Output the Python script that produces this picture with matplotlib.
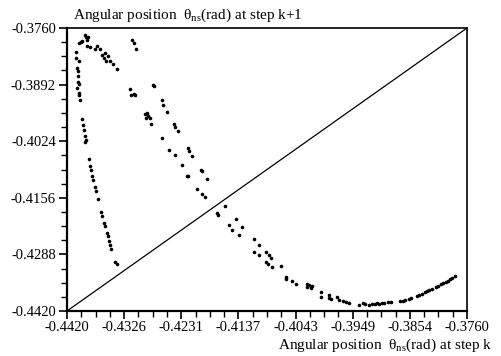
import matplotlib
matplotlib.use("Agg")
import matplotlib.pyplot as plt
import numpy as np

plt.rcParams['font.family'] = ['Liberation Serif', 'DejaVu Serif']
plt.rcParams['mathtext.fontset'] = 'custom'
plt.rcParams['mathtext.rm'] = 'Liberation Serif'
plt.rcParams['mathtext.it'] = 'Liberation Serif'

# axis range and tick labels
lo, hi = -0.4420, -0.3760
xtick_labels = ["-0.4420", "-0.4326", "-0.4231", "-0.4137", "-0.4043", "-0.3949", "-0.3854", "-0.3760"]
ytick_labels = ["-0.4420", "-0.4288", "-0.4156", "-0.4024", "-0.3892", "-0.3760"]

# return map: theta at step k (x) vs theta at step k+1 (y)
theta_k = [
    -0.4391, -0.4389, -0.4385, -0.4387, -0.4396, -0.4397, -0.4401, -0.4387, -0.4382, -0.4370,
    -0.4366, -0.4374, -0.4363, -0.4357, -0.4353, -0.4359, -0.4355, -0.4349, -0.4344, -0.4337,
    -0.4405, -0.4405, -0.4401, -0.4403, -0.4402, -0.4402, -0.4402, -0.4401, -0.4403, -0.4401,
    -0.4400, -0.4399, -0.4396, -0.4394, -0.4392, -0.4390, -0.4389, -0.4390, -0.4384, -0.4382,
    -0.4380, -0.4379, -0.4377, -0.4374, -0.4372, -0.4369, -0.4364, -0.4362, -0.4359, -0.4357,
    -0.4354, -0.4353, -0.4351, -0.4349, -0.4347, -0.4340, -0.4338,
    -0.4312, -0.4309, -0.4306, -0.4316, -0.4314, -0.4310, -0.4307, -0.4291, -0.4288, -0.4287,
    -0.4290, -0.4283, -0.4282,
    -0.4278, -0.4276, -0.4264, -0.4261, -0.4255, -0.4244, -0.4242, -0.4237, -0.4221, -0.4218,
    -0.4214, -0.4199, -0.4198, -0.4189, -0.4159, -0.4141, -0.4131, -0.4112, -0.4103, -0.4092,
    -0.4086, -0.4083, -0.4067,
    -0.4264, -0.4252, -0.4242, -0.4231, -0.4222, -0.4220, -0.4205, -0.4198, -0.4192, -0.4173,
    -0.4171, -0.4153, -0.4147, -0.4137, -0.4112, -0.4104, -0.4092, -0.4089, -0.4081, -0.4059,
    -0.4058, -0.4048, -0.4042, -0.4024, -0.4021, -0.4024, -0.4018, -0.4016, -0.4001, -0.4001,
    -0.3987, -0.3988, -0.3985, -0.3975, -0.3971, -0.3964, -0.3959, -0.3954, -0.3939, -0.3932,
    -0.3929, -0.3921, -0.3916, -0.3912, -0.3909, -0.3905, -0.3901, -0.3897, -0.3891, -0.3886,
    -0.3870, -0.3866, -0.3862, -0.3856, -0.3853, -0.3843, -0.3839, -0.3835, -0.3830, -0.3826,
    -0.3822, -0.3818, -0.3811, -0.3808, -0.3803, -0.3799, -0.3794, -0.3792, -0.3788, -0.3784,
    -0.3779,
]
theta_k1 = [
    -0.3777, -0.3780, -0.3780, -0.3787, -0.3790, -0.3793, -0.3795, -0.3801, -0.3804, -0.3801,
    -0.3808, -0.3810, -0.3822, -0.3818, -0.3826, -0.3831, -0.3836, -0.3838, -0.3843, -0.3856,
    -0.3817, -0.3831, -0.3836, -0.3854, -0.3861, -0.3871, -0.3885, -0.3890, -0.3900, -0.3911,
    -0.3916, -0.3929, -0.3972, -0.3986, -0.3999, -0.4011, -0.4021, -0.4025, -0.4066, -0.4083,
    -0.4091, -0.4104, -0.4114, -0.4130, -0.4141, -0.4159, -0.4188, -0.4198, -0.4214, -0.4222,
    -0.4237, -0.4246, -0.4257, -0.4265, -0.4276, -0.4305, -0.4311,
    -0.3789, -0.3796, -0.3808, -0.3903, -0.3917, -0.3913, -0.3917, -0.3961, -0.3959, -0.3965,
    -0.3971, -0.3971, -0.3985,
    -0.3894, -0.3895, -0.3929, -0.3939, -0.3955, -0.3983, -0.3990, -0.4001, -0.4040, -0.4048,
    -0.4058, -0.4091, -0.4093, -0.4112, -0.4174, -0.4205, -0.4223, -0.4251, -0.4265, -0.4282,
    -0.4289, -0.4296, -0.4314,
    -0.4017, -0.4044, -0.4057, -0.4080, -0.4104, -0.4104, -0.4136, -0.4146, -0.4154, -0.4192,
    -0.4197, -0.4219, -0.4231, -0.4243, -0.4283, -0.4289, -0.4306, -0.4310, -0.4317, -0.4341,
    -0.4345, -0.4350, -0.4356, -0.4357, -0.4359, -0.4365, -0.4366, -0.4362, -0.4375, -0.4387,
    -0.4382, -0.4390, -0.4393, -0.4388, -0.4394, -0.4397, -0.4398, -0.4401, -0.4405, -0.4401,
    -0.4404, -0.4405, -0.4404, -0.4404, -0.4402, -0.4404, -0.4402, -0.4401, -0.4400, -0.4399,
    -0.4397, -0.4396, -0.4394, -0.4391, -0.4389, -0.4384, -0.4382, -0.4380, -0.4376, -0.4374,
    -0.4372, -0.4369, -0.4363, -0.4362, -0.4358, -0.4355, -0.4352, -0.4349, -0.4346, -0.4342,
    -0.4338,
]

fig = plt.figure(figsize=(5.02, 3.56), dpi=100)
ax = fig.add_axes([67/502, 45/356, 400/502, 283/356])

ax.plot([lo, hi], [lo, hi], color="black", lw=0.9)
ax.plot(theta_k, theta_k1, linestyle="none", marker="o", ms=2.6, color="black", mec="black", mew=0)

ax.set_xlim(lo, hi)
ax.set_ylim(lo, hi)

xt = np.linspace(lo, hi, len(xtick_labels))
yt = np.linspace(lo, hi, len(ytick_labels))
ax.set_xticks(xt)
ax.set_xticklabels(xtick_labels)
ax.set_yticks(yt)
ax.set_yticklabels(ytick_labels)
ax.set_xticks(np.linspace(lo, hi, 4 * (len(xtick_labels) - 1) + 1), minor=True)
ax.set_yticks(np.linspace(lo, hi, 4 * (len(ytick_labels) - 1) + 1), minor=True)

ax.tick_params(which="major", direction="out", length=6, width=1.2, labelsize=10.5, pad=2, colors="black")
ax.tick_params(which="minor", direction="out", length=4, width=1.0)
ax.tick_params(axis="x", pad=1.5)

for side in ["left", "bottom"]:
    ax.spines[side].set_linewidth(1.6)
for side in ["top", "right"]:
    ax.spines[side].set_linewidth(1.2)

fig.text(73/502, 1 - 15/356, "Angular position  θ$_{\\rm ns}$(rad) at step k+1",
         ha="left", va="center", fontsize=11)
fig.text(492/502, 1 - 345/356, "Angular position  θ$_{\\rm ns}$(rad) at step k",
         ha="right", va="center", fontsize=11)

fig.savefig("out.png", dpi=100)
